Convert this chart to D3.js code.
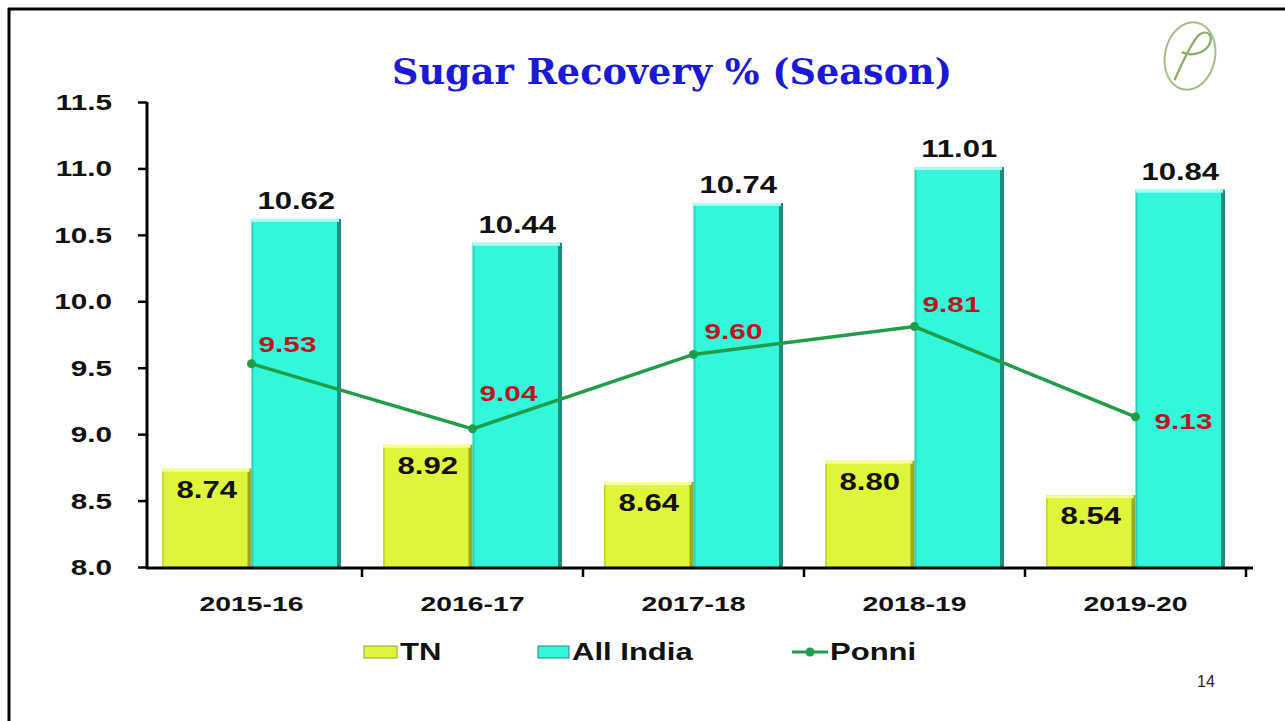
<!DOCTYPE html>
<html>
<head>
<meta charset="utf-8">
<script src="https://cdn.jsdelivr.net/npm/d3@7"></script>
<style>
  html, body { margin: 0; padding: 0; background: #fff; }
  svg { display: block; }
</style>
</head>
<body>
<svg id="chart" width="1285" height="721"></svg>
<script>
// ---- data ----
const categories = ["2015-16", "2016-17", "2017-18", "2018-19", "2019-20"];
const tnValues = [8.74, 8.92, 8.64, 8.80, 8.54];
const allIndiaValues = [10.62, 10.44, 10.74, 11.01, 10.84];
const ponniValues = [9.53, 9.04, 9.60, 9.81, 9.13];
const yTickValues = [8.0, 8.5, 9.0, 9.5, 10.0, 10.5, 11.0, 11.5];
const seriesNames = ["TN", "All India", "Ponni"];
const ponniLabelDy = [-20, -36, -23, -23, 4];
const ponniLabelDx = [36, 36, 40, 37, 48];

const svg = d3.select("#chart");
const SX = 1.35; // horizontal stretch of the slide text
const SANS = "'Liberation Sans', Arial, sans-serif";

function sText(g, x, y, str, size, anchor, fill) {
  return g.append("text")
    .attr("transform", `translate(${x},${y}) scale(${SX},1)`)
    .attr("text-anchor", anchor || "middle")
    .style("font-family", SANS)
    .style("font-weight", "bold")
    .style("font-size", size + "px")
    .attr("fill", fill || "#111")
    .text(str);
}

// slide frame
svg.append("line").attr("x1", 8).attr("x2", 1285).attr("y1", 9).attr("y2", 9)
  .attr("stroke", "#000").attr("stroke-width", 3);
svg.append("line").attr("x1", 9).attr("x2", 9).attr("y1", 8).attr("y2", 721)
  .attr("stroke", "#000").attr("stroke-width", 3);

// title
svg.append("text")
  .attr("x", 392).attr("y", 84)
  .style("font-family", "'DejaVu Serif', 'Liberation Serif', serif")
  .style("font-weight", "bold")
  .style("font-size", "35px")
  .attr("fill", "#1a1ad6")
  .attr("textLength", 560)
  .attr("lengthAdjust", "spacingAndGlyphs")
  .text("Sugar Recovery % (Season)");

// logo
const logo = svg.append("g").attr("transform", "translate(1190,56) rotate(12)");
logo.append("ellipse").attr("rx", 25).attr("ry", 34)
  .attr("fill", "none").attr("stroke", "#a3c083").attr("stroke-width", 2);
logo.append("path")
  .attr("d", "M-10,26 C-6,8 -2,-12 4,-22 C10,-30 20,-26 16,-14 C12,-4 0,0 -8,-2")
  .attr("fill", "none").attr("stroke", "#8aae68").attr("stroke-width", 2.3)
  .attr("stroke-linecap", "round");

// scales
const x0 = d3.scaleBand().domain(categories).range([141, 1246])
  .paddingInner(0.19).paddingOuter(0.095);
const x1 = d3.scaleBand().domain(["TN", "All India"]).range([0, x0.bandwidth()]);
const y = d3.scaleLinear().domain([8, 11.5]).range([567, 102]);

// bars
function drawBar(g, x, w, v, fill, edge, light) {
  const top = y(v), bottom = y(8);
  g.append("rect").attr("x", x).attr("y", top).attr("width", w).attr("height", bottom - top)
    .attr("fill", fill);
  g.append("rect").attr("x", x + w - 4).attr("y", top).attr("width", 4).attr("height", bottom - top)
    .attr("fill", edge);
  g.append("rect").attr("x", x).attr("y", top).attr("width", 2).attr("height", bottom - top)
    .attr("fill", edge).attr("opacity", 0.35);
  g.append("rect").attr("x", x).attr("y", top).attr("width", w - 2).attr("height", 3)
    .attr("fill", light);
}

const barsG = svg.append("g");
categories.forEach((c, i) => {
  const bx = x0(c);
  drawBar(barsG, bx + x1("TN"), x1.bandwidth(), tnValues[i], "#e0f43a", "#9aa824", "#f4ff9a");
  drawBar(barsG, bx + x1("All India"), x1.bandwidth(), allIndiaValues[i], "#33f7da", "#1f8d7d", "#a8fff2");
});

// axes
const yAxis = d3.axisLeft(y).tickValues(yTickValues).tickFormat(d3.format(".1f"))
  .tickSize(9).tickSizeOuter(0);
const yG = svg.append("g").attr("transform", "translate(147,0)").call(yAxis);
yG.select(".domain").attr("stroke", "#000").attr("stroke-width", 3)
  .attr("d", `M0,${y(11.5)}V${y(8) + 1.5}`);
yG.selectAll(".tick line").attr("stroke", "#000").attr("stroke-width", 2.5);
yG.selectAll(".tick text").remove();
yTickValues.forEach(v => {
  sText(svg, 112, y(v) + 8, d3.format(".1f")(v), 22, "end");
});

// x axis line + boundary ticks
svg.append("line").attr("x1", 146).attr("x2", 1253).attr("y1", 568).attr("y2", 568)
  .attr("stroke", "#000").attr("stroke-width", 3);
const step = x0.step();
categories.forEach((c, i) => {
  const bx = x0(c) - step * x0.paddingInner() / 2 + step;
  svg.append("line").attr("x1", bx).attr("x2", bx).attr("y1", 568).attr("y2", 577)
    .attr("stroke", "#000").attr("stroke-width", 2.5);
  sText(svg, x0(c) + x0.bandwidth() / 2, 611, c, 21, "middle");
});

// bar labels
categories.forEach((c, i) => {
  const bx = x0(c);
  sText(svg, bx + x1("TN") + x1.bandwidth() / 2, y(tnValues[i]) + 29, tnValues[i].toFixed(2), 23, "middle");
  sText(svg, bx + x1("All India") + x1.bandwidth() / 2, y(allIndiaValues[i]) - 10, allIndiaValues[i].toFixed(2), 23, "middle");
});

// Ponni line
const cx = c => x0(c) + x0.bandwidth() / 2;
const line = d3.line().x((d, i) => cx(categories[i])).y(d => y(d));
svg.append("path").datum(ponniValues).attr("d", line)
  .attr("fill", "none").attr("stroke", "#1f9e48").attr("stroke-width", 3.5);
svg.selectAll(".pdot").data(ponniValues).enter().append("circle")
  .attr("cx", (d, i) => cx(categories[i])).attr("cy", d => y(d)).attr("r", 4.5)
  .attr("fill", "#1f9e48");
ponniValues.forEach((v, i) => {
  sText(svg, cx(categories[i]) + ponniLabelDx[i], y(v) + ponniLabelDy[i] + 8, v.toFixed(2), 22, "middle", "#c0141c");
});

// legend
const lg = svg.append("g");
lg.append("rect").attr("x", 364).attr("y", 646).attr("width", 33).attr("height", 12).attr("fill", "#e0f43a")
  .attr("stroke", "#9aa824").attr("stroke-width", 1);
sText(lg, 400, 660, seriesNames[0], 23, "start");
lg.append("rect").attr("x", 538).attr("y", 646).attr("width", 31).attr("height", 12).attr("fill", "#33f7da")
  .attr("stroke", "#1f8d7d").attr("stroke-width", 1);
sText(lg, 572, 660, seriesNames[1], 23, "start");
lg.append("line").attr("x1", 792).attr("x2", 828).attr("y1", 652).attr("y2", 652)
  .attr("stroke", "#1f9e48").attr("stroke-width", 3);
lg.append("circle").attr("cx", 810).attr("cy", 652).attr("r", 4.5).attr("fill", "#1f9e48");
sText(lg, 830, 660, seriesNames[2], 23, "start");

// page number
svg.append("text").attr("x", 1197).attr("y", 687)
  .style("font-family", SANS).style("font-size", "16px").style("font-weight", "normal")
  .attr("fill", "#222").text("14");
</script>
</body>
</html>
